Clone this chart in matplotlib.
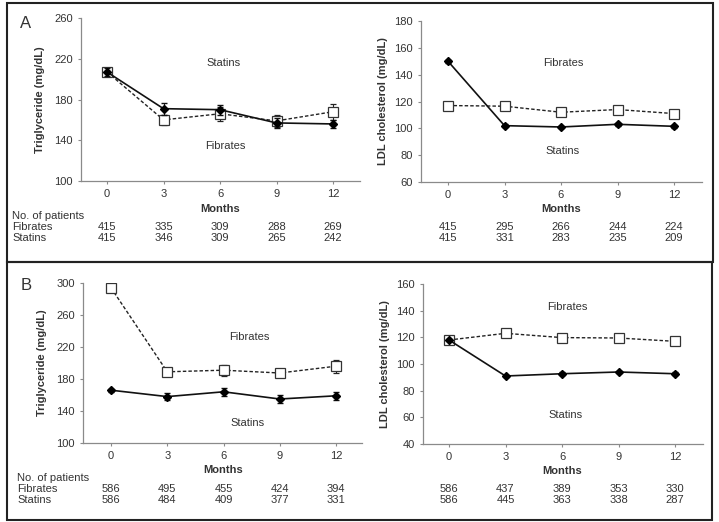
import matplotlib
matplotlib.use("Agg")
import matplotlib.pyplot as plt
import matplotlib.transforms as mtransforms
from matplotlib.patches import Rectangle

plt.rcParams["font.family"] = ["Liberation Sans", "DejaVu Sans"]

months = [0, 3, 6, 9, 12]

# panel A
a_tg_fib = [207, 160, 166, 159, 168]
a_tg_fib_err = [4, 5, 7, 6, 8]
a_tg_sta = [207, 171, 170, 157, 156]
a_tg_sta_err = [4, 6, 5, 5, 4]
a_ldl_fib = [117, 116.5, 112, 114, 111]
a_ldl_fib_err = [1.5, 2, 2, 2, 1.5]
a_ldl_sta = [150, 102, 101, 103, 101.5]
a_ldl_sta_err = [1, 1, 1, 1, 1]
a_n_tg_fib = [415, 335, 309, 288, 269]
a_n_tg_sta = [415, 346, 309, 265, 242]
a_n_ldl_fib = [415, 295, 266, 244, 224]
a_n_ldl_sta = [415, 331, 283, 235, 209]

# panel B
b_tg_fib = [294, 189, 191, 187.5, 196]
b_tg_fib_err = [3, 5, 7, 5, 8]
b_tg_sta = [166, 158, 164, 155, 159]
b_tg_sta_err = [2, 4, 5, 5, 5]
b_ldl_fib = [118, 123, 119.8, 119.5, 117]
b_ldl_fib_err = [1.5, 2, 1.5, 1.5, 1.5]
b_ldl_sta = [118, 91, 92.7, 94, 92.7]
b_ldl_sta_err = [1, 1, 1, 1, 1]
b_n_tg_fib = [586, 495, 455, 424, 394]
b_n_tg_sta = [586, 484, 409, 377, 331]
b_n_ldl_fib = [586, 437, 389, 353, 330]
b_n_ldl_sta = [586, 445, 363, 338, 287]

W, H = 719, 522
TXT = "#333333"
fig = plt.figure(figsize=(W / 100, H / 100), dpi=100)


def px_axes(x0, x1, y0, y1):
    return fig.add_axes([x0 / W, 1 - y1 / H, (x1 - x0) / W, (y1 - y0) / H])


def draw(ax, x0px, xpx0, xpx12, x1px, fib, fib_err, sta, sta_err, ylim, yticks, ylabel,
         fib_xy, sta_xy, n_fib, n_sta, rows_y, months_y, ylab_x, table_x=None):
    unit = (xpx12 - xpx0) / 12
    ax.set_xlim(-(xpx0 - x0px) / unit, 12 + (x1px - xpx12) / unit)
    ax.set_ylim(*ylim)
    ax.set_yticks(yticks)
    ax.set_xticks(months)
    for s in ["top", "right"]:
        ax.spines[s].set_visible(False)
    for s in ["left", "bottom"]:
        ax.spines[s].set_color("#8a8a8a")
        ax.spines[s].set_linewidth(0.9)
    ax.tick_params(colors="#8a8a8a", labelcolor=TXT, labelsize=8, length=2.5, width=0.8)
    ax.tick_params(axis="x", pad=3)
    ax.errorbar(months, fib, yerr=fib_err, color="#222222", ls=(0, (2.5, 1.5)), lw=1,
                marker="s", ms=7, mfc="white", mec="#333333", mew=0.9,
                capsize=2, elinewidth=0.8, zorder=3)
    ax.errorbar(months, sta, yerr=sta_err, color="#111111", ls="-", lw=1.2,
                marker="D", ms=4.5, mfc="black", mec="black",
                capsize=2, elinewidth=0.8, zorder=4)
    ax.text(fib_xy[0], fib_xy[1], "Fibrates", fontsize=8, color=TXT, ha="center", va="center")
    ax.text(sta_xy[0], sta_xy[1], "Statins", fontsize=8, color=TXT, ha="center", va="center")
    pos = ax.get_position()
    fig.text(ylab_x / W, (pos.y0 + pos.y1) / 2, ylabel, rotation=90, fontsize=8,
             fontweight="bold", color=TXT, ha="center", va="center")
    tr = mtransforms.blended_transform_factory(ax.transData, fig.transFigure)
    ax.text(6, 1 - months_y / H, "Months", transform=tr, fontsize=8, fontweight="bold",
            color=TXT, ha="center", va="center")
    for m, nf, ns in zip(months, n_fib, n_sta):
        ax.text(m, 1 - rows_y[1] / H, str(nf), transform=tr, fontsize=8, color=TXT,
                ha="center", va="center")
        ax.text(m, 1 - rows_y[2] / H, str(ns), transform=tr, fontsize=8, color=TXT,
                ha="center", va="center")
    if table_x is not None:
        for lab, yy in zip(["No. of patients", "Fibrates", "Statins"], rows_y):
            fig.text(table_x / W, 1 - yy / H, lab, fontsize=8, color=TXT,
                     ha="left", va="center")


# Panel A
ax = px_axes(81, 360, 18, 181)
draw(ax, 81, 107, 333, 360, a_tg_fib, a_tg_fib_err, a_tg_sta, a_tg_sta_err,
     (100, 260), [100, 140, 180, 220, 260], "Triglyceride (mg/dL)",
     (6.3, 134), (6.2, 216), a_n_tg_fib, a_n_tg_sta, (216, 227, 238), 209, 40, table_x=12)
ax = px_axes(421, 702, 21, 182)
draw(ax, 421, 448, 674, 702, a_ldl_fib, a_ldl_fib_err, a_ldl_sta, a_ldl_sta_err,
     (60, 180), [60, 80, 100, 120, 140, 160, 180], "LDL cholesterol (mg/dL)",
     (6.1, 149), (6.1, 83), a_n_ldl_fib, a_n_ldl_sta, (216, 227, 238), 209, 383)

# Panel B
ax = px_axes(83, 362, 283, 443)
draw(ax, 83, 111, 336, 362, b_tg_fib, b_tg_fib_err, b_tg_sta, b_tg_sta_err,
     (100, 300), [100, 140, 180, 220, 260, 300], "Triglyceride (mg/dL)",
     (7.4, 232), (7.3, 125), b_n_tg_fib, b_n_tg_sta, (478, 489, 500), 470, 42, table_x=17)
ax = px_axes(423, 703, 284, 444)
draw(ax, 423, 449, 675, 703, b_ldl_fib, b_ldl_fib_err, b_ldl_sta, b_ldl_sta_err,
     (40, 160), [40, 60, 80, 100, 120, 140, 160], "LDL cholesterol (mg/dL)",
     (6.3, 143), (6.2, 62), b_n_ldl_fib, b_n_ldl_sta, (478, 489, 500), 471, 385)

fig.text(26 / W, 1 - 23 / H, "A", fontsize=12, color=TXT, ha="center", va="center")
fig.text(26 / W, 1 - 286 / H, "B", fontsize=12, color=TXT, ha="center", va="center")

# panel frames
for (x0, y0, x1, y1) in [(7, 3, 713, 262), (7, 262, 712, 520)]:
    fig.add_artist(Rectangle((x0 / W, 1 - y1 / H), (x1 - x0) / W, (y1 - y0) / H,
                             transform=fig.transFigure, fill=False,
                             edgecolor="#222222", lw=1.5))

fig.savefig("out.png", dpi=100)
